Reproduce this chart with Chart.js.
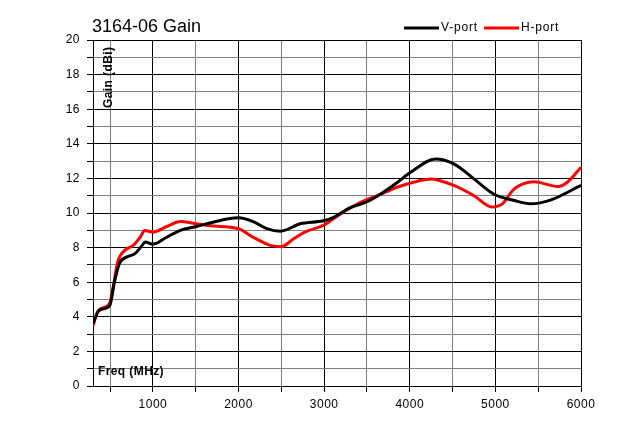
<!DOCTYPE html>
<html>
<head>
<meta charset="utf-8">
<script src="https://cdn.jsdelivr.net/npm/chart.js@4/dist/chart.umd.min.js"></script>
<style>
  html, body { margin: 0; padding: 0; background: #fff; }
  #wrap { width: 640px; height: 431px; }
</style>
</head>
<body>
<div id="wrap"><canvas id="gain"></canvas></div>
<script>
// values
const vFreq = [300, 360, 450, 500, 550, 610, 690, 790, 870, 910, 1000, 1160, 1320, 1510, 1700, 2000, 2170, 2330, 2490, 2720, 2990, 3110, 3300, 3500, 3660, 3850, 4010, 4300, 4520, 4750, 4980, 5220, 5410, 5650, 6000];
const vGain = [3.6, 4.3, 4.5, 4.7, 6.0, 7.1, 7.45, 7.65, 8.1, 8.33, 8.2, 8.6, 9.0, 9.22, 9.47, 9.72, 9.5, 9.1, 8.95, 9.38, 9.55, 9.75, 10.3, 10.65, 11.1, 11.75, 12.35, 13.12, 12.83, 11.97, 11.1, 10.72, 10.53, 10.76, 11.6];
const hFreq = [300, 360, 440, 500, 535, 590, 670, 770, 850, 905, 1000, 1160, 1320, 1470, 1670, 2000, 2170, 2370, 2500, 2640, 2800, 2990, 3190, 3420, 3620, 3850, 4100, 4240, 4520, 4750, 4960, 5080, 5220, 5450, 5730, 5840, 6000];
const hGain = [3.5, 4.35, 4.57, 4.86, 5.7, 7.2, 7.84, 8.13, 8.6, 8.99, 8.9, 9.22, 9.51, 9.41, 9.26, 9.09, 8.6, 8.13, 8.05, 8.5, 8.95, 9.28, 9.95, 10.6, 11.0, 11.49, 11.85, 11.97, 11.58, 11.0, 10.35, 10.53, 11.39, 11.81, 11.53, 11.78, 12.65];
const xTicks = [500, 1000, 1500, 2000, 2500, 3000, 3500, 4000, 4500, 5000, 5500, 6000];
const seriesNames = ["V-port", "H-port"];
const seriesColors = ["#000000", "#ff0000"];

const FONT = "Arial, 'Liberation Sans', sans-serif";

const toPoints = (xs, ys) => xs.map((x, i) => ({ x: x, y: ys[i] }));

// title, legend and the axis captions
const decorations = {
  id: "decorations",
  beforeDraw(chart) {
    chart.ctx.letterSpacing = "0.5px";
  },
  afterDraw(chart) {
    const ctx = chart.ctx;
    const area = chart.chartArea;
    ctx.save();
    ctx.fillStyle = "#000";

    ctx.letterSpacing = "0px";
    ctx.font = "18px " + FONT;
    ctx.textAlign = "left";
    ctx.textBaseline = "alphabetic";
    ctx.fillText("3164-06 Gain", 92, 32);

    // legend
    ctx.letterSpacing = "0.8px";
    ctx.font = "12px " + FONT;
    ctx.textBaseline = "middle";
    let x = 404;
    seriesNames.forEach((name, i) => {
      ctx.strokeStyle = seriesColors[i];
      ctx.lineWidth = 3;
      ctx.beginPath();
      ctx.moveTo(x, 28);
      ctx.lineTo(x + 35, 28);
      ctx.stroke();
      ctx.fillStyle = "#000";
      ctx.fillText(name, x + 37, 28);
      x += 80;
    });

    // axis captions inside the plot
    ctx.letterSpacing = "0.4px";
    ctx.font = "bold 12px " + FONT;
    ctx.textBaseline = "middle";
    ctx.fillText("Freq (MHz)", area.left + 5, 372);

    ctx.translate(109, 108);
    ctx.rotate(-Math.PI / 2);
    ctx.textAlign = "left";
    ctx.fillText("Gain (dBi)", 0, 0);
    ctx.restore();
  }
};

const ctx = document.getElementById("gain").getContext("2d");
new Chart(ctx, {
  type: "line",
  data: {
    datasets: [
      {
        label: seriesNames[0],
        data: toPoints(vFreq, vGain),
        borderColor: seriesColors[0],
        borderWidth: 3,
        pointRadius: 0,
        cubicInterpolationMode: "monotone",
        fill: false
      },
      {
        label: seriesNames[1],
        data: toPoints(hFreq, hGain),
        borderColor: seriesColors[1],
        borderWidth: 3,
        pointRadius: 0,
        cubicInterpolationMode: "monotone",
        fill: false
      }
    ]
  },
  options: {
    responsive: true,
    maintainAspectRatio: false,
    animation: false,
    layout: { padding: { top: 40, right: 59, bottom: 0, left: 0 } },
    plugins: {
      legend: { display: false },
      tooltip: { enabled: false },
      title: { display: false }
    },
    scales: {
      x: {
        type: "linear",
        min: 300,
        max: 6000,
        afterBuildTicks: (scale) => {
          scale.ticks = xTicks.map((v) => ({ value: v }));
        },
        afterFit: (scale) => { scale.height = 45; },
        grid: {
          color: (c) => (c.tick && c.tick.value % 1000 === 0 ? "#000" : "#808080"),
          tickColor: "#000",
          tickLength: 6,
          lineWidth: 1
        },
        border: { color: "#000", width: 1 },
        ticks: {
          color: "#000",
          font: { family: FONT, size: 12 },
          padding: 5,
          maxRotation: 0,
          autoSkip: false,
          callback: (v) => (v % 1000 === 0 ? String(v) : "")
        }
      },
      y: {
        min: 0,
        max: 20,
        afterFit: (scale) => { scale.width = 93; },
        grid: {
          color: (c) => (c.tick && c.tick.value % 2 === 0 ? "#000" : "#808080"),
          tickColor: "#000",
          tickLength: 6,
          lineWidth: 1
        },
        border: { color: "#000", width: 1 },
        ticks: {
          stepSize: 1,
          color: "#000",
          font: { family: FONT, size: 12 },
          padding: 7,
          autoSkip: false,
          callback: (v) => (v % 2 === 0 ? String(v) : "")
        }
      }
    }
  },
  plugins: [decorations]
});
</script>
</body>
</html>
